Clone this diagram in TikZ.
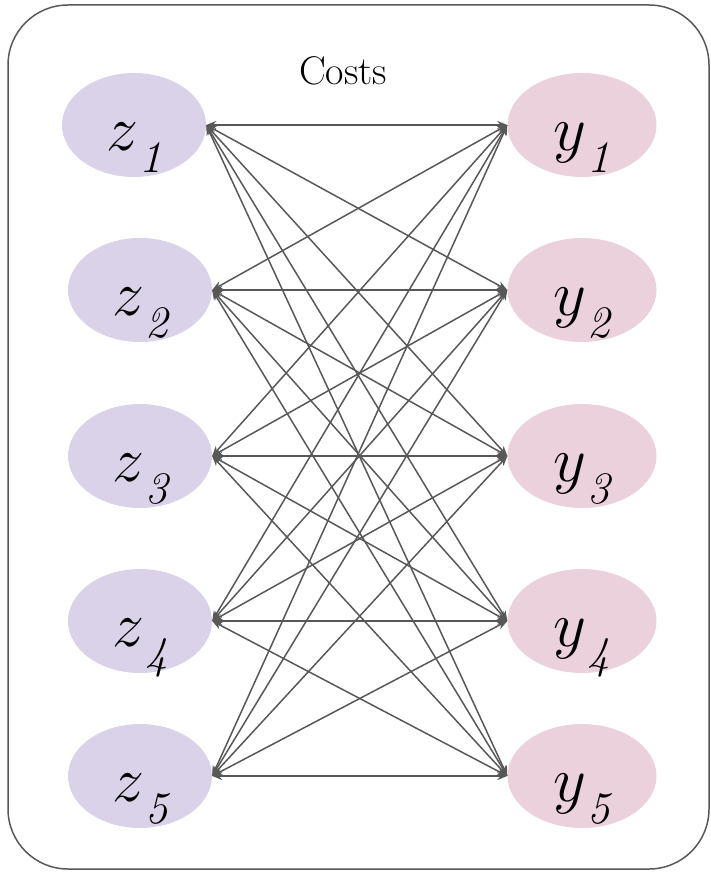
\documentclass[tikz,border=0pt]{standalone}
\usepackage{fix-cm}
\usepackage{tikz}
\usetikzlibrary{arrows.meta,positioning,shapes.geometric}
\definecolor{zfill}{RGB}{217,210,233}
\definecolor{yfill}{RGB}{234,209,220}
\definecolor{linkgray}{RGB}{88,88,88}
% variable with a low italic index
\newcommand{\varsub}[2]{$#1$\kern1.5pt\raisebox{-22pt}{\fontsize{45}{45}\selectfont\itshape #2}}
\begin{document}
\begin{tikzpicture}[x=1pt,y=-1pt,
  zvar/.style={ellipse,fill=zfill,minimum width=144,minimum height=104,inner sep=0},
  yvar/.style={ellipse,fill=yfill,minimum width=149,minimum height=104,inner sep=0},
  varlab/.style={anchor=base,inner sep=0,font=\fontsize{64}{64}\selectfont},
  link/.style={{Stealth[length=10,width=8]}-{Stealth[length=10,width=8]},linkgray,line width=1.5},
]
  \useasboundingbox (0,0) rectangle (710,872);
  \draw[linkgray,line width=1.5,rounded corners=60] (8,5) rectangle (709,869);
  \node[font=\fontsize{40}{40}\selectfont] (costs) at (343,71) {Costs};

  \node[zvar] (z1) at (134,125) {};
  \node[zvar] (z2) at (140,290) {};
  \node[zvar] (z3) at (140,456) {};
  \node[zvar] (z4) at (140,621) {};
  \node[zvar] (z5) at (140,776) {};
  \node[yvar] (y1) at (582,125) {};
  \node[yvar] (y2) at (582,290) {};
  \node[yvar] (y3) at (582,456) {};
  \node[yvar] (y4) at (582,621) {};
  \node[yvar] (y5) at (582,776) {};

  \foreach \i in {1,...,5}{
    \node[varlab] (z\i lab) at ([yshift=-25]z\i.center) {\varsub{z}{\i}};
    \node[varlab] (y\i lab) at ([yshift=-25]y\i.center) {\varsub{y}{\i}};
  }

  \foreach \i in {1,...,5}
    \foreach \j in {1,...,5}
      \draw[link] (z\i.east) -- (y\j.west);
\end{tikzpicture}
\end{document}
